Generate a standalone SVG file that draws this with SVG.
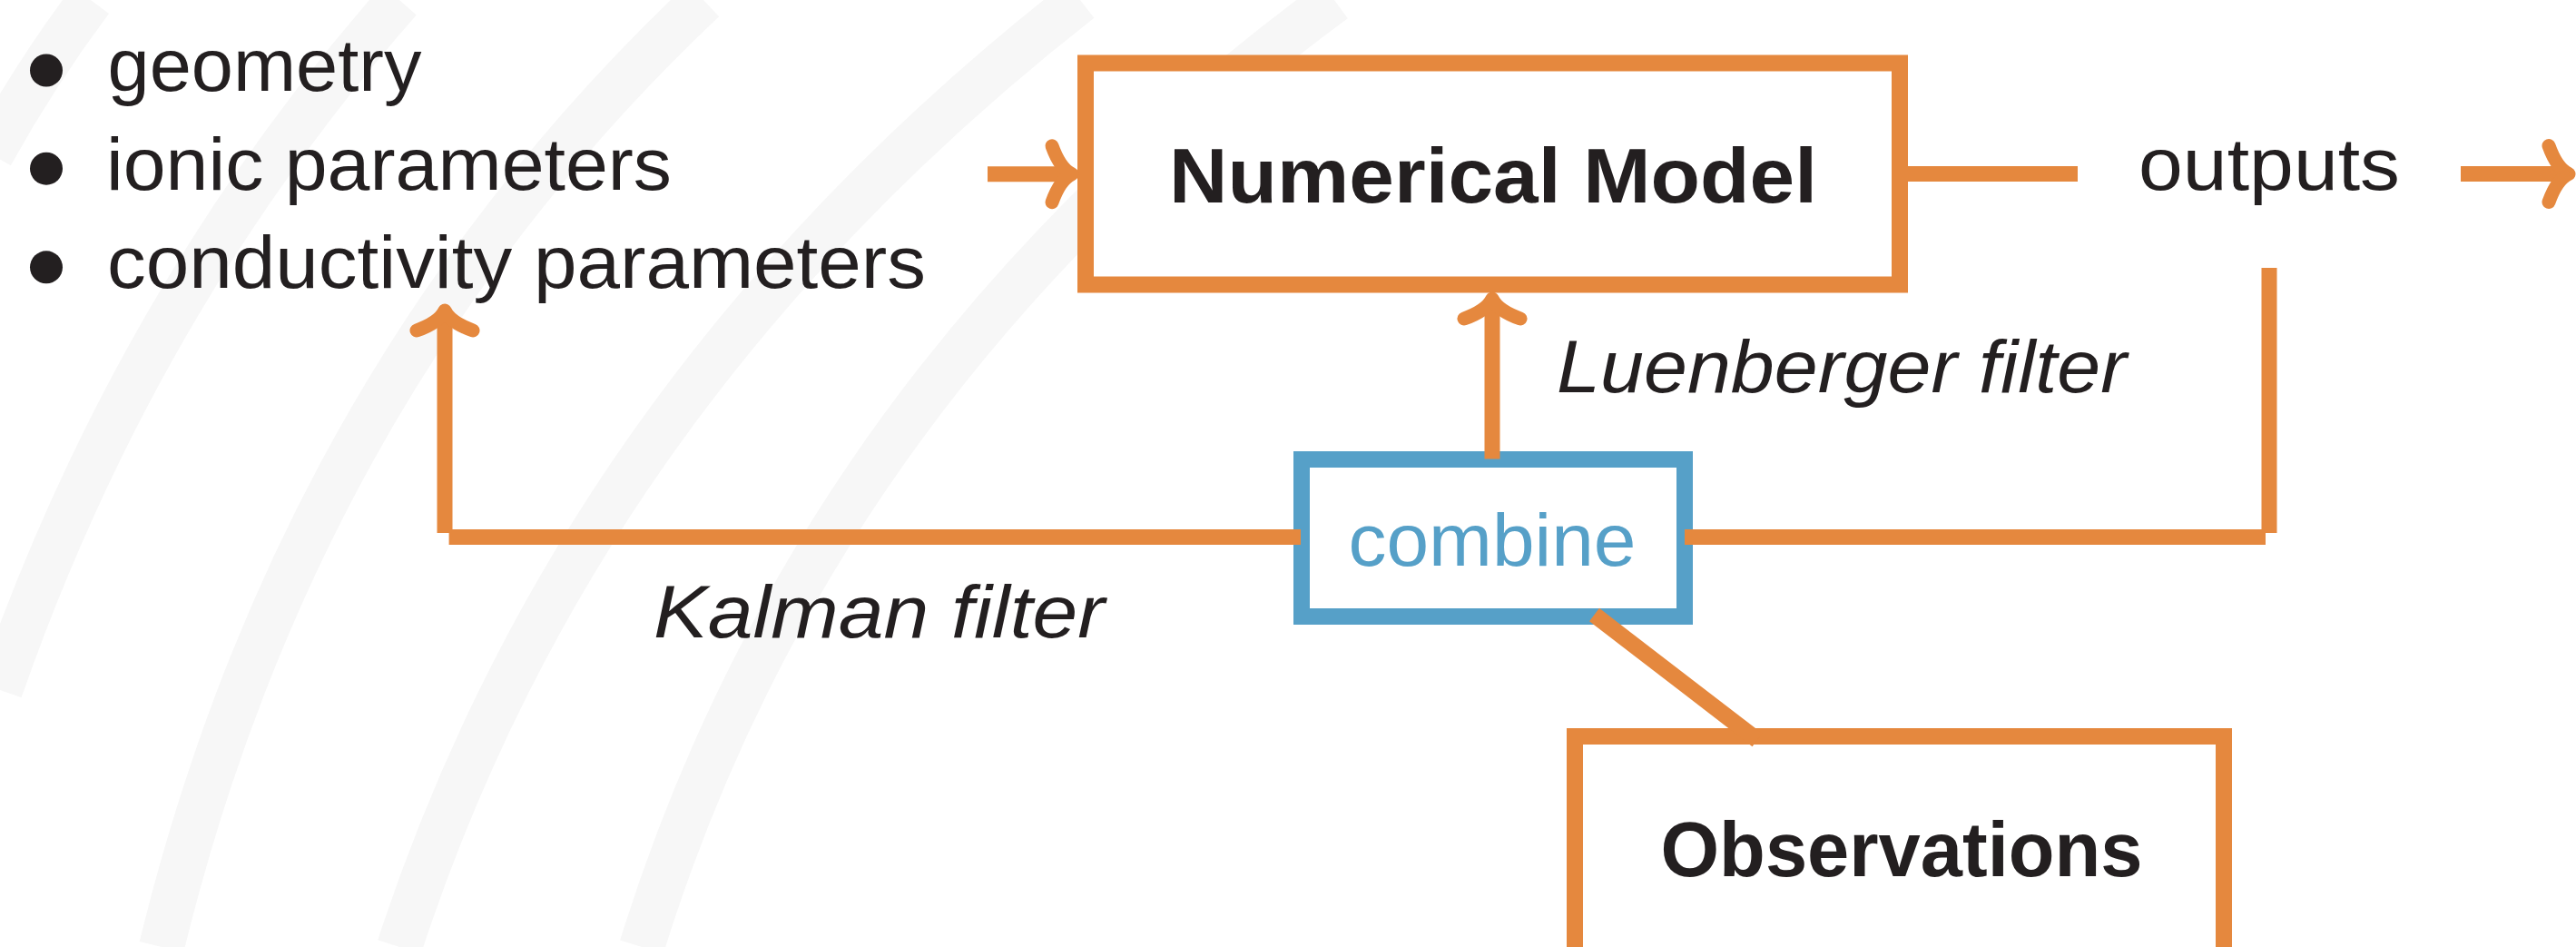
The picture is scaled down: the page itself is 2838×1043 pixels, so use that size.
<svg xmlns="http://www.w3.org/2000/svg" width="2838" height="1043" viewBox="0 0 2838 1043">
<defs>
<style>
.bg{fill:none;stroke:#f7f7f7;stroke-width:50}
.box{fill:#ffffff;stroke:#e5883e;stroke-width:18}
.cbox{fill:#ffffff;stroke:#56a0c8;stroke-width:18}
.ln{fill:none;stroke:#e5883e;stroke-width:17;stroke-linecap:butt}
.t{font-family:"Liberation Sans",Arial,sans-serif;fill:#231f20}
.b{font-weight:bold}
.i{font-style:italic}
.dot{fill:#231f20}
</style>
<marker id="arrow" markerUnits="userSpaceOnUse" viewBox="-40 -45 50 90" markerWidth="50" markerHeight="90" refX="-12" refY="0" orient="auto" overflow="visible">
<path d="M -28,-31 Q -19,-6 -6,0 Q -19,6 -28,31" fill="none" stroke="#e5883e" stroke-width="15" stroke-linecap="round" stroke-linejoin="round"/>
</marker>
</defs>
<rect x="0" y="0" width="2838" height="1043" fill="#ffffff"/>
<g id="background">
<path class="bg" d="M 100,0 Q 40,80 -10,170"/>
<path class="bg" d="M 440,0 Q 150,330 0,760"/>
<path class="bg" d="M 775,0 Q 330,420 178,1043"/>
<path class="bg" d="M 1190,0 Q 640,430 440,1043"/>
<path class="bg" d="M 1470,0 Q 900,420 707,1043"/>
</g>
<g id="parameters">
<circle class="dot" cx="51" cy="77.5" r="18"/>
<circle class="dot" cx="51" cy="185.7" r="18"/>
<circle class="dot" cx="51" cy="294.3" r="18"/>
<text class="t" x="118.5" y="100" font-size="82" textLength="346" lengthAdjust="spacingAndGlyphs">geometry</text>
<text class="t" x="117" y="209" font-size="82" textLength="623" lengthAdjust="spacingAndGlyphs">ionic parameters</text>
<text class="t" x="118" y="316.7" font-size="82" textLength="902" lengthAdjust="spacingAndGlyphs">conductivity parameters</text>
</g>
<g id="numerical-model">
<rect class="box" x="1196" y="69.5" width="897" height="244"/>
<text class="t b" x="1645" y="222.7" font-size="86" text-anchor="middle" textLength="714" lengthAdjust="spacingAndGlyphs">Numerical Model</text>
</g>
<g id="outputs">
<text class="t" x="2500" y="209" font-size="82" text-anchor="middle" textLength="288" lengthAdjust="spacingAndGlyphs">outputs</text>
</g>
<g id="combine">
<rect class="cbox" x="1434" y="506" width="422" height="173"/>
<text class="t" x="1644" y="623" font-size="82" text-anchor="middle" textLength="317" lengthAdjust="spacingAndGlyphs" style="fill:#56a0c8">combine</text>
</g>
<g id="observations">
<rect class="box" x="1735" y="811" width="715" height="300"/>
<text class="t b" x="2095" y="965" font-size="86" text-anchor="middle" textLength="531" lengthAdjust="spacingAndGlyphs">Observations</text>
</g>
<g id="connectors">
<path class="ln" d="M 1088,191.7 L 1175,191.7" marker-end="url(#arrow)"/>
<path class="ln" d="M 2101,191.5 L 2289,191.5"/>
<path class="ln" d="M 2711,191.5 L 2824,191.5" marker-end="url(#arrow)"/>
<path class="ln" d="M 2500,295 L 2500,587"/>
<path class="ln" d="M 1856,591.5 L 2496,591.5"/>
<path class="ln" d="M 1644,505.5 L 1644,335" marker-end="url(#arrow)"/>
<path class="ln" d="M 1433,591.5 L 494.6,591.5"/>
<path class="ln" d="M 490,587 L 490,348" marker-end="url(#arrow)"/>
<path class="ln" style="stroke-width:18" d="M 1756.5,677 L 1936,815"/>
</g>
<g id="labels">
<text class="t i" x="1715" y="432" font-size="82" textLength="628" lengthAdjust="spacingAndGlyphs">Luenberger filter</text>
<text class="t i" x="720" y="702" font-size="82" textLength="497" lengthAdjust="spacingAndGlyphs">Kalman filter</text>
</g>
</svg>
